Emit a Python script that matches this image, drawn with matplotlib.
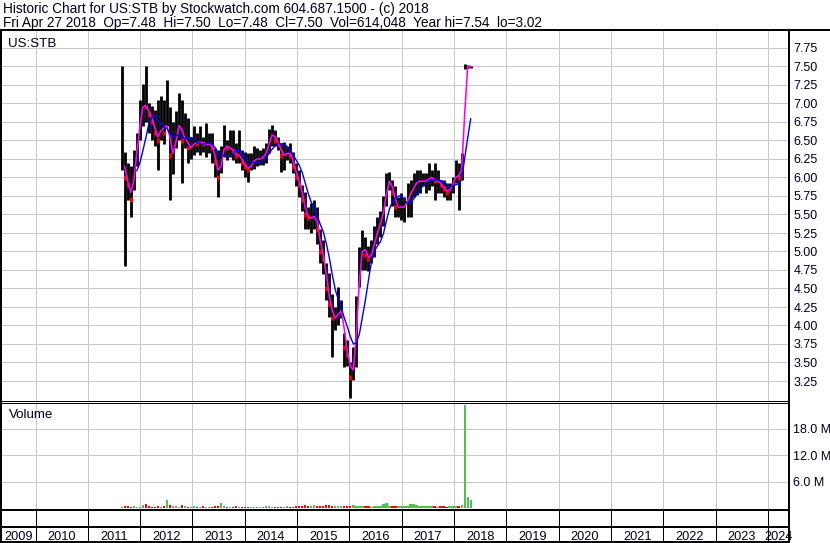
import numpy as np
import pandas as pd
import matplotlib
matplotlib.use("Agg")
import matplotlib.pyplot as plt
import matplotlib.dates as mdates
from matplotlib.lines import Line2D
from matplotlib.ticker import FixedLocator, FuncFormatter

plt.rcParams['font.family'] = ['Liberation Sans', 'DejaVu Sans']

# ---------------- data ----------------
dates = pd.date_range(end="2018-04-27", periods=117, freq="21D")

high = [7.50, 6.35, 6.19, 6.15, 6.37, 6.60, 7.05, 7.27, 7.50, 7.00,
        6.96, 6.91, 7.05, 7.10, 7.05, 7.32, 6.95, 6.75, 6.90, 7.14,
        7.05, 6.87, 6.80, 6.55, 6.70, 6.60, 6.70, 6.55, 6.73, 6.60,
        6.60, 6.40, 6.37, 6.42, 6.71, 6.51, 6.64, 6.64, 6.46, 6.64,
        6.37, 6.35, 6.33, 6.33, 6.42, 6.40, 6.37, 6.40, 6.46, 6.66,
        6.71, 6.64, 6.55, 6.46, 6.48, 6.42, 6.46, 6.35, 6.19, 6.10,
        5.90, 5.80, 5.60, 5.65, 5.70, 5.60, 5.30, 5.16, 4.84, 4.71,
        4.43, 4.25, 4.52, 4.34, 3.90, 3.80, 3.50, 3.71, 4.40, 5.06,
        5.29, 5.20, 5.07, 5.16, 5.34, 5.47, 5.55, 5.75, 6.06, 6.08,
        5.97, 5.88, 5.74, 5.79, 5.74, 5.92, 5.97, 6.06, 6.10, 6.10,
        6.06, 6.06, 6.19, 6.10, 6.19, 6.10, 5.97, 5.97, 5.92, 5.92,
        6.01, 6.24, 6.19, 6.33, 7.54, 7.52, 7.51]

low = [6.10, 4.80, 5.70, 5.47, 5.83, 6.15, 6.50, 6.70, 6.75, 6.60,
       6.50, 6.42, 6.10, 6.50, 6.45, 6.70, 5.70, 6.05, 6.40, 6.50,
       5.92, 6.40, 6.20, 6.25, 6.30, 6.35, 6.30, 6.35, 6.28, 6.33,
       6.20, 6.00, 5.74, 6.06, 6.28, 6.24, 6.28, 6.24, 6.19, 6.19,
       6.10, 6.01, 5.94, 6.10, 6.12, 6.15, 6.17, 6.17, 6.19, 6.33,
       6.42, 6.42, 6.37, 6.08, 6.10, 6.24, 6.19, 6.06, 5.88, 5.74,
       5.55, 5.30, 5.30, 5.25, 5.30, 5.10, 4.84, 4.70, 4.34, 4.12,
       3.58, 3.94, 4.00, 4.10, 3.44, 3.45, 3.02, 3.26, 3.44, 4.52,
       4.75, 4.75, 4.73, 4.84, 4.93, 5.10, 5.20, 5.34, 5.61, 5.83,
       5.61, 5.47, 5.47, 5.43, 5.40, 5.47, 5.47, 5.74, 5.77, 5.79,
       5.88, 5.79, 5.83, 5.88, 5.70, 5.79, 5.79, 5.74, 5.70, 5.70,
       5.79, 5.92, 5.56, 5.97, 7.46, 7.48, 7.48]

close = [6.30, 6.00, 5.90, 5.70, 6.20, 6.45, 6.90, 7.00, 6.95, 6.85,
         6.75, 6.60, 6.50, 6.75, 6.60, 6.80, 6.30, 6.35, 6.60, 6.80,
         6.50, 6.55, 6.40, 6.40, 6.50, 6.45, 6.50, 6.45, 6.45, 6.45,
         6.40, 6.20, 6.00, 6.30, 6.45, 6.40, 6.40, 6.35, 6.30, 6.30,
         6.20, 6.15, 6.10, 6.20, 6.25, 6.25, 6.25, 6.30, 6.35, 6.55,
         6.60, 6.50, 6.45, 6.30, 6.30, 6.35, 6.30, 6.15, 6.00, 5.90,
         5.70, 5.50, 5.45, 5.45, 5.50, 5.30, 5.00, 4.90, 4.50, 4.30,
         4.10, 4.10, 4.20, 4.20, 3.70, 3.60, 3.30, 3.50, 4.30, 4.90,
         5.10, 4.95, 4.90, 5.00, 5.20, 5.30, 5.45, 5.60, 5.95, 5.95,
         5.80, 5.60, 5.60, 5.60, 5.60, 5.75, 5.80, 5.90, 5.95, 5.95,
         5.95, 5.95, 6.00, 6.00, 5.95, 5.95, 5.90, 5.85, 5.80, 5.85,
         5.95, 6.05, 6.00, 6.20, 7.50, 7.50, 7.50]

volume_m = [0.3, 0.5, 0.4, 0.3, 0.4, 0.3, 0.3, 0.6, 0.8, 0.4,
            0.3, 0.3, 0.4, 0.3, 0.5, 1.9, 0.6, 0.4, 0.5, 0.3,
            0.7, 0.4, 0.3, 0.3, 0.4, 0.3, 0.3, 0.4, 0.3, 0.3,
            0.3, 0.4, 0.5, 1.2, 0.4, 0.3, 0.3, 0.3, 0.4, 0.3,
            0.3, 0.3, 0.3, 0.3, 0.3, 0.3, 0.3, 0.3, 0.4, 0.4,
            0.3, 0.3, 0.3, 0.3, 0.3, 0.4, 0.3, 0.3, 0.5, 0.5,
            0.5, 0.6, 0.5, 0.5, 0.6, 0.4, 0.5, 0.5, 0.6, 0.7,
            0.5, 0.4, 0.4, 0.5, 0.5, 0.4, 0.5, 0.6, 0.5, 0.4,
            0.5, 0.4, 0.4, 0.3, 0.4, 0.4, 0.5, 0.8, 1.1, 0.5,
            0.4, 0.4, 0.5, 0.4, 0.4, 0.5, 0.9, 0.8, 0.7, 0.5,
            0.4, 0.5, 0.4, 0.5, 0.4, 0.3, 0.4, 0.4, 0.3, 0.4,
            0.4, 0.5, 0.5, 0.6, 23.3, 2.4, 1.9]

price_ticks = [3.25, 3.50, 3.75, 4.00, 4.25, 4.50, 4.75, 5.00, 5.25, 5.50,
               5.75, 6.00, 6.25, 6.50, 6.75, 7.00, 7.25, 7.50, 7.75]
vol_ticks_m = [6, 12, 18]
year_labels = list(range(2009, 2025))

title_line1 = "Historic Chart for US:STB by Stockwatch.com 604.687.1500 - (c) 2018"
title_line2 = ("Fri Apr 27 2018  Op=7.48  Hi=7.50  Lo=7.48  Cl=7.50  "
               "Vol=614,048  Year hi=7.54  lo=3.02")
symbol = "US:STB"
vol_title = "Volume"

# ---------------- layout helpers (pixel based) ----------------
W, H = 830, 543
fig = plt.figure(figsize=(W / 100, H / 100), dpi=100)
PX = 0.72  # points per pixel
TXT = "#000020"


def fx(px):
    return px / W


def fy(py):
    return 1 - py / H


def axes_px(x0, y0, x1, y1):
    return fig.add_axes([fx(x0), fy(y1), (x1 - x0) / W, (y1 - y0) / H])


def hline(y, x0, x1, lw_px, color="black"):
    fig.add_artist(Line2D([fx(x0), fx(x1)], [fy(y), fy(y)], lw=lw_px * PX,
                          color=color, transform=fig.transFigure))


def vline(x, y0, y1, lw_px, color="black"):
    fig.add_artist(Line2D([fx(x), fx(x)], [fy(y0), fy(y1)], lw=lw_px * PX,
                          color=color, transform=fig.transFigure))


# x calibration: Jan 1 2010 at px 35.5, 52.32 px per year
d2010 = mdates.date2num(pd.Timestamp("2010-01-01"))
px_per_day = 52.32 / 365.25
AX_L, AX_R = 1, 789
xlim = (d2010 + (AX_L - 35.5) / px_per_day, d2010 + (AX_R - 35.5) / px_per_day)

GRID = "#c8c8c8"
xd = mdates.date2num(dates)
year_starts = [mdates.date2num(pd.Timestamp(f"{y}-01-01")) for y in range(2010, 2025)]

# ---------------- price panel ----------------
ax = axes_px(AX_L, 31, AX_R, 400.5)
ax.set_xlim(*xlim)
ax.set_ylim(7.75 - (400.5 - 48) / 74, 7.75 + (48 - 31) / 74)
for s in ax.spines.values():
    s.set_visible(False)
ax.xaxis.set_major_locator(FixedLocator(year_starts))
ax.yaxis.set_major_locator(FixedLocator(price_ticks))
ax.yaxis.set_major_formatter(FuncFormatter(lambda v, p: f"{v:.2f}"))
ax.yaxis.tick_right()
ax.tick_params(axis="y", length=0, pad=3.2, labelsize=9, labelcolor=TXT)
ax.tick_params(axis="x", length=0, labelbottom=False)
ax.grid(True, color=GRID, lw=1 * PX)
ax.set_axisbelow(True)

ax.vlines(xd, low, high, color="black", lw=2.0 * PX * 1.4, zorder=2)
cl = np.array(close)
down = np.r_[False, cl[1:] < cl[:-1]]
ax.vlines(xd[down], cl[down] - 0.03, cl[down] + 0.03, color="#ff0000",
          lw=2.0 * PX * 1.4, zorder=3)

ma_short = pd.Series(close).rolling(2).mean()
ma_long = pd.Series(close).rolling(6).mean()
ax.plot(xd, ma_short, color="#ff00ff", lw=1.6 * PX, zorder=4)
ax.plot(xd, ma_long, color="#0000ff", lw=1.4 * PX, zorder=4)

fig.text(fx(8), fy(46.5), symbol, fontsize=9.6, va="baseline", ha="left",
         color=TXT)

# ---------------- volume panel ----------------
axv = axes_px(AX_L, 403, AX_R, 510)
axv.set_xlim(*xlim)
axv.set_ylim(-0.45, 23.8)
for s in axv.spines.values():
    s.set_visible(False)
axv.xaxis.set_major_locator(FixedLocator(year_starts))
axv.yaxis.set_major_locator(FixedLocator(vol_ticks_m))
axv.yaxis.set_major_formatter(FuncFormatter(lambda v, p: f"{v:.1f} M"))
axv.yaxis.tick_right()
axv.tick_params(axis="y", length=0, pad=3.2, labelsize=9, labelcolor=TXT)
axv.tick_params(axis="x", length=0, labelbottom=False)
axv.grid(True, color=GRID, lw=1 * PX)
axv.set_axisbelow(True)
vcol = ["#ff0000" if d else "#50c050" for d in down]
axv.bar(xd, volume_m, width=16, color=vcol, zorder=2)
fig.text(fx(9), fy(418), vol_title, fontsize=9.6, va="baseline", ha="left",
         color=TXT)

# ---------------- date strip ----------------
axd = axes_px(AX_L, 510, AX_R, 542)
axd.set_xlim(*xlim)
axd.set_ylim(0, 1)
axd.axis("off")
for ys in year_starts:
    axd.axvline(ys, color="black", lw=1 * PX)
for y in year_labels:
    a = max(mdates.date2num(pd.Timestamp(f"{y}-01-01")), xlim[0])
    b = min(mdates.date2num(pd.Timestamp(f"{y + 1}-01-01")), xlim[1])
    axd.text((a + b) / 2, (542 - 539.5) / 32, str(y), ha="center",
             va="baseline", fontsize=9.2, color=TXT)

# ---------------- header & frame ----------------
fig.text(fx(3), fy(13.5), title_line1, fontsize=9.85, va="baseline", ha="left",
         color=TXT)
fig.text(fx(3), fy(27), title_line2, fontsize=9.85,
         va="baseline", ha="left", color=TXT)

hline(30, 0, W, 2)
vline(1, 30, H, 2)
vline(789, 30, H, 2)
hline(400.5, 0, 789, 1)
hline(403, 0, 789, 1)
hline(510, 0, 789, 2)
hline(527, 0, 789, 2)
hline(541.5, 0, 789, 2)

fig.savefig("out.png", dpi=100)
